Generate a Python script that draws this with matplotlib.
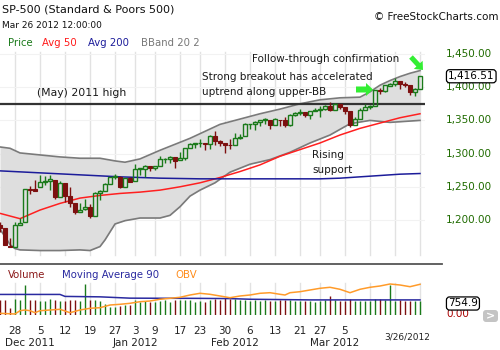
import matplotlib
matplotlib.use("Agg")
import matplotlib.pyplot as plt
import numpy as np
import pandas as pd
from matplotlib.patches import Rectangle, FancyArrow, FancyBboxPatch
from matplotlib.transforms import IdentityTransform

plt.rcParams['font.family'] = ['DejaVu Sans']

# ---------------- data ----------------
dates = ["2011-11-22", "2011-11-23", "2011-11-25", "2011-11-28", "2011-11-29", "2011-11-30",
         "2011-12-01", "2011-12-02", "2011-12-05", "2011-12-06", "2011-12-07", "2011-12-08", "2011-12-09",
         "2011-12-12", "2011-12-13", "2011-12-14", "2011-12-15", "2011-12-16", "2011-12-19", "2011-12-20",
         "2011-12-21", "2011-12-22", "2011-12-23", "2011-12-27", "2011-12-28", "2011-12-29", "2011-12-30",
         "2012-01-03", "2012-01-04", "2012-01-05", "2012-01-06", "2012-01-09", "2012-01-10", "2012-01-11",
         "2012-01-12", "2012-01-13", "2012-01-17", "2012-01-18", "2012-01-19", "2012-01-20", "2012-01-23",
         "2012-01-24", "2012-01-25", "2012-01-26", "2012-01-27", "2012-01-30", "2012-01-31",
         "2012-02-01", "2012-02-02", "2012-02-03", "2012-02-06", "2012-02-07", "2012-02-08", "2012-02-09",
         "2012-02-10", "2012-02-13", "2012-02-14", "2012-02-15", "2012-02-16", "2012-02-17", "2012-02-21",
         "2012-02-22", "2012-02-23", "2012-02-24", "2012-02-27", "2012-02-28", "2012-02-29",
         "2012-03-01", "2012-03-02", "2012-03-05", "2012-03-06", "2012-03-07", "2012-03-08", "2012-03-09",
         "2012-03-12", "2012-03-13", "2012-03-14", "2012-03-15", "2012-03-16", "2012-03-19", "2012-03-20",
         "2012-03-21", "2012-03-22", "2012-03-23", "2012-03-26"]

opens = [1192.98, 1187.48, 1161.41, 1158.67, 1192.56, 1196.72,
         1246.91, 1246.03, 1249.75, 1257.19, 1258.14, 1260.87, 1234.48,
         1255.05, 1236.83, 1225.73, 1212.12, 1216.09, 1219.74, 1205.72,
         1241.25, 1243.72, 1254.00, 1265.02, 1265.38, 1249.75, 1262.82,
         1258.86, 1277.03, 1277.30, 1280.93, 1277.83, 1280.77, 1292.02,
         1292.48, 1294.82, 1290.22, 1293.65, 1308.07, 1314.49, 1315.29,
         1315.96, 1314.40, 1326.28, 1318.25, 1316.16, 1313.53,
         1312.45, 1324.24, 1326.21, 1344.32, 1344.33, 1347.04, 1349.97,
         1351.21, 1343.06, 1351.30, 1350.52, 1342.61, 1358.06, 1361.22,
         1362.11, 1357.53, 1363.46, 1365.20, 1367.56, 1372.20,
         1365.90, 1374.09, 1369.59, 1363.63, 1343.39, 1352.65, 1365.97,
         1370.78, 1371.92, 1395.95, 1394.17, 1402.55, 1404.17, 1409.59,
         1405.52, 1402.89, 1392.78, 1397.11]
highs = [1196.81, 1187.48, 1172.66, 1197.35, 1203.67, 1247.11,
         1251.09, 1260.08, 1267.06, 1266.03, 1267.06, 1260.87, 1258.25,
         1255.05, 1249.86, 1225.73, 1225.60, 1231.04, 1224.57, 1242.82,
         1245.09, 1255.22, 1265.42, 1269.37, 1265.85, 1263.54, 1264.12,
         1284.62, 1278.73, 1283.05, 1281.84, 1281.99, 1296.46, 1293.80,
         1296.82, 1294.82, 1303.00, 1308.11, 1315.49, 1315.38, 1322.28,
         1315.96, 1328.30, 1333.47, 1320.06, 1316.16, 1321.41,
         1330.52, 1329.19, 1345.34, 1344.36, 1349.24, 1351.00, 1354.32,
         1351.21, 1353.35, 1351.30, 1355.87, 1359.02, 1363.40, 1367.76,
         1362.70, 1364.24, 1368.92, 1371.94, 1373.09, 1378.04,
         1376.17, 1374.53, 1369.59, 1363.63, 1354.85, 1368.72, 1374.76,
         1373.04, 1396.13, 1399.42, 1402.63, 1405.88, 1414.00, 1409.59,
         1407.75, 1402.89, 1399.18, 1416.58]
lows = [1181.65, 1161.79, 1158.66, 1158.67, 1191.80, 1196.72,
        1239.73, 1243.35, 1249.75, 1253.03, 1244.80, 1231.47, 1234.48,
        1227.25, 1219.43, 1209.47, 1212.12, 1215.20, 1202.37, 1205.72,
        1229.51, 1243.72, 1254.00, 1262.30, 1248.64, 1249.75, 1257.46,
        1258.86, 1268.10, 1265.26, 1273.34, 1274.55, 1280.77, 1285.41,
        1285.77, 1277.58, 1290.22, 1290.99, 1308.07, 1309.17, 1309.89,
        1306.06, 1307.65, 1313.60, 1311.72, 1300.49, 1306.69,
        1312.45, 1321.57, 1326.21, 1337.52, 1335.92, 1341.95, 1344.63,
        1337.35, 1343.06, 1340.83, 1340.80, 1341.22, 1357.24, 1358.11,
        1355.53, 1352.28, 1363.46, 1354.92, 1365.97, 1363.81,
        1365.90, 1366.42, 1359.13, 1340.03, 1343.39, 1352.65, 1365.97,
        1366.69, 1371.92, 1389.97, 1392.78, 1401.47, 1402.43, 1397.68,
        1400.64, 1388.73, 1386.87, 1397.11]
closes = [1188.04, 1161.79, 1158.67, 1192.55, 1195.19, 1246.96,
          1244.58, 1244.28, 1257.08, 1258.47, 1261.01, 1234.35, 1255.19,
          1236.47, 1225.73, 1211.82, 1215.75, 1219.66, 1205.35, 1241.30,
          1243.72, 1254.00, 1265.33, 1265.43, 1249.64, 1263.02, 1257.60,
          1277.06, 1277.30, 1281.06, 1277.81, 1280.70, 1292.08, 1292.48,
          1295.50, 1289.09, 1293.67, 1308.04, 1314.50, 1315.38, 1316.00,
          1314.65, 1326.06, 1318.43, 1316.33, 1313.01, 1312.41,
          1324.09, 1325.54, 1344.90, 1344.33, 1347.05, 1349.96, 1351.95,
          1342.64, 1351.77, 1350.50, 1343.23, 1358.04, 1361.23, 1362.21,
          1357.66, 1363.46, 1365.74, 1367.59, 1372.18, 1365.68,
          1374.09, 1369.63, 1364.33, 1343.36, 1352.63, 1365.91, 1370.87,
          1371.09, 1395.95, 1394.28, 1402.60, 1404.17, 1409.75, 1405.52,
          1402.89, 1392.78, 1397.11, 1416.51]
volume = [3.4, 3.4, 1.5, 3.6, 3.5, 6.9, 3.4, 3.4, 3.1, 3.2, 3.6, 3.4, 3.2,
          3.1, 3.4, 3.5, 3.2, 7.0, 3.5, 3.5, 3.2, 2.6, 1.9, 1.9, 2.0, 2.3, 2.3,
          3.4, 3.0, 3.2, 3.0, 3.0, 3.2, 3.4, 3.0, 3.4, 3.5, 3.4, 3.4, 3.0, 3.2,
          3.0, 3.4, 3.6, 3.4, 4.0, 3.6, 3.6, 3.5, 3.4, 3.2, 3.4, 3.3, 3.5,
          3.3, 3.1, 3.4, 3.5, 3.4, 3.2, 3.3, 3.2, 3.1, 3.0, 3.3, 3.4, 4.3,
          3.4, 3.1, 3.2, 3.7, 3.3, 3.3, 3.2, 3.1, 3.7, 3.6, 3.5, 6.9, 3.3,
          3.4, 3.3, 3.2, 3.2, 3.3]

# indicator lines (index of trading day, value)
bb_upper_idx = [0, 2, 4, 8, 12, 16, 20, 23, 25, 28, 32, 36, 38, 40, 44, 48, 52, 56, 60, 64, 68, 72, 74, 76, 78, 80, 82, 84]
bb_upper = [1310, 1308, 1301, 1298, 1295, 1293, 1293, 1289, 1287, 1292, 1305, 1317, 1323, 1330, 1344, 1352,
            1360, 1367, 1375, 1381, 1384, 1385, 1393, 1403, 1410, 1416, 1421, 1425]
bb_lower_idx = [0, 1, 2, 3, 4, 8, 12, 16, 18, 20, 21, 22, 23, 25, 28, 32, 34, 36, 38, 40, 43, 46, 50, 54, 58,
                62, 66, 70, 74, 78, 82, 84]
bb_lower = [1186, 1175, 1163, 1157, 1155, 1154, 1154, 1155, 1154, 1160, 1170, 1182, 1194, 1199, 1203, 1203,
            1207, 1220, 1236, 1245, 1256, 1272, 1284, 1291, 1302, 1316, 1328, 1345, 1350, 1347, 1349, 1350]
ma50_idx = [0, 4, 8, 12, 16, 20, 24, 28, 32, 36, 40, 44, 48, 52, 56, 60, 64, 68, 72, 76, 80, 84]
ma50 = [1210, 1202, 1215, 1225, 1233, 1237, 1240, 1242, 1245, 1250, 1256, 1264, 1273, 1283, 1296, 1306,
        1316, 1328, 1338, 1346, 1354, 1360]
ma200_idx = [0, 8, 16, 24, 32, 40, 48, 56, 64, 68, 72, 76, 80, 84]
ma200 = [1274, 1271, 1268, 1265, 1263, 1262, 1262, 1262, 1262, 1263, 1265, 1267, 1269, 1270]
vol_ma90_idx = [0, 12, 13, 20, 24, 26, 40, 46, 50, 62, 84]
vol_ma90 = [4.7, 4.7, 4.25, 4.15, 3.95, 3.85, 3.8, 3.75, 3.6, 3.45, 3.45]
obv_idx = [0, 3, 4, 5, 6, 7, 8, 10, 12, 14, 16, 18, 20, 22, 24, 26, 28, 30, 32, 34, 36, 38, 40, 42, 44, 46,
           48, 50, 52, 54, 56, 57, 58, 60, 62, 64, 66, 68, 70, 72, 74, 76, 78, 80, 82, 84]
obv = [1.7, 1.0, 4.3, 5.0, 4.3, 2.3, 4.3, 5.0, 5.7, 2.3, 5.0, 6.7, 7.3, 10.0, 10.7, 11.7, 13.3, 14.0, 15.7,
       16.7, 17.7, 20.0, 21.7, 20.7, 19.0, 17.3, 19.0, 20.0, 21.7, 22.3, 20.7, 20.0, 22.3, 23.3, 25.0, 26.7,
       27.7, 25.7, 22.3, 25.7, 27.7, 29.0, 31.0, 30.0, 28.3, 30.7]
may_2011_high = 1375
price_ticks = [1450, 1400, 1350, 1300, 1250, 1200]
last_price_label = "1,416.51"
last_volume_label = "754.9"

# ---------------- helpers ----------------
W, H = 500, 350
def fx(x):
    return x / W
def fy(y):
    return 1 - y / H

GREEN = '#1a7a1a'
RED = '#7d1010'
TICKGREEN = '#1f6b00'

fig = plt.figure(figsize=(5, 3.5), dpi=100)
fig.patch.set_facecolor('white')

n = len(dates)
idx = np.arange(n)
dts = pd.to_datetime(dates)

# week-start ticks
week_key = dts.to_period('W')
week_first = [int(i) for i in pd.Series(idx).groupby(week_key.values).min().values]
week_first = [i for i in week_first if i > 0]

# ---------------- price panel ----------------
P_TOP, P_BOT = 50, 258
ax = fig.add_axes([0, fy(P_BOT), 425 / W, (P_BOT - P_TOP) / H])
ax.set_xlim(0, 85)
ylo = 1200 - (P_BOT - 220) / 0.664
yhi = 1450 + (54 - P_TOP) / 0.664
ax.set_ylim(ylo, yhi)
ax.set_axis_off()

g0 = (P_BOT - 255) / (P_BOT - P_TOP)
g1 = (P_BOT - 52) / (P_BOT - P_TOP)
for i in week_first:
    ax.axvline(i, ymin=g0, ymax=g1, color='#e2e2e2', lw=1, zorder=0)
for p in price_ticks:
    ax.axhline(p, color='#f2f2f2', lw=0.8, zorder=0)

ui = np.interp(idx, bb_upper_idx, bb_upper)
li = np.interp(idx, bb_lower_idx, bb_lower)
ax.fill_between(idx, li, ui, color='#dedede', zorder=1, lw=0)
ax.plot(bb_upper_idx, bb_upper, color='#7a7a7a', lw=1.2, zorder=2)
ax.plot(bb_lower_idx, bb_lower, color='#7a7a7a', lw=1.2, zorder=2)
ax.plot(ma50_idx, ma50, color='#ff2020', lw=1.1, zorder=2)
ax.plot(ma200_idx, ma200, color='#1c1c9a', lw=1.1, zorder=2)
ax.axhline(may_2011_high, color='#333333', lw=1.6, zorder=3)

bw = 0.8
for i in range(n):
    o, h, l, c = opens[i], highs[i], lows[i], closes[i]
    up = c >= o
    col = GREEN if up else RED
    bot, top = min(o, c), max(o, c)
    ax.plot([i, i], [l, bot], color=col, lw=1.0, zorder=4, solid_capstyle='butt')
    ax.plot([i, i], [top, h], color=col, lw=1.0, zorder=4, solid_capstyle='butt')
    hgt = max(top - bot, 0.6)
    if up:
        r = Rectangle((i - bw / 2, bot), bw, hgt, facecolor='none', edgecolor=col, lw=1.0, zorder=5)
    else:
        r = Rectangle((i - bw / 2, bot), bw, hgt, facecolor=col, edgecolor=col, lw=0.8, zorder=5)
    ax.add_patch(r)

# right price labels
for p in price_ticks:
    ypx = 54 + (1450 - p) * 0.664
    fig.text(fx(446), fy(ypx), f"{p:,.2f}", color=TICKGREEN, fontsize=7.5, va='center', ha='left')
lp = closes[-1]
fig.text(fx(448), fy(54 + (1450 - lp) * 0.664), last_price_label, color='black', fontsize=7.5,
         va='center', ha='left', zorder=10,
         bbox=dict(boxstyle='round,pad=0.15,rounding_size=0.3', fc='white', ec='black', lw=0.9))

# separator line
fig.add_artist(plt.Line2D([0, fx(442)], [fy(263.5), fy(263.5)], color='#555555', lw=1.3))

# ---------------- volume panel ----------------
V_TOP, V_BOT = 280, 315
axv = fig.add_axes([0, fy(V_BOT), 425 / W, (V_BOT - V_TOP) / H])
axv.set_xlim(0, 85)
axv.set_ylim(0, 8)
axv.set_axis_off()
vg1 = (V_BOT - 283) / (V_BOT - V_TOP)
for i in week_first:
    axv.axvline(i, ymin=0, ymax=vg1, color='#e2e2e2', lw=1, zorder=0)
vcols = [GREEN if closes[i] >= opens[i] else RED for i in range(n)]
axv.vlines(idx, 0, volume, colors=vcols, lw=1.0, zorder=2)
axv.plot(vol_ma90_idx, vol_ma90, color='#2a2aa0', lw=1.1, zorder=3)
axo = fig.add_axes([0, fy(V_BOT), 425 / W, (V_BOT - V_TOP) / H])
axo.set_xlim(0, 85)
axo.set_ylim(0, 35)
axo.set_axis_off()
axo.patch.set_alpha(0)
axo.plot(obv_idx, obv, color='#ff9b2a', lw=1.1, zorder=3)

# volume axis labels
fig.text(fx(448), fy(303.5), last_volume_label, color='black', fontsize=7.5, va='center', ha='left', zorder=10,
         bbox=dict(boxstyle='round,pad=0.15,rounding_size=0.3', fc='white', ec='black', lw=0.9))
fig.text(fx(446), fy(314), "0.00", color='#aa0000', fontsize=7.5, va='center', ha='left', zorder=5)
btn = FancyBboxPatch((483, H - 322), 15, 12, boxstyle='round,pad=0,rounding_size=3',
                     transform=IdentityTransform(), fc='#c4c4c4', ec='none')
fig.add_artist(btn)
fig.text(fx(490.5), fy(316), ">", color='white', fontsize=8, fontweight='bold', va='center', ha='center')

# ---------------- x labels ----------------
hide_from = dts.get_loc(pd.Timestamp("2012-03-12"))
for i in week_first:
    if i >= hide_from:
        continue
    fig.text(fx(i * 5), fy(330.5), str(dts[i].day), fontsize=7.5, color='#222222', ha='center', va='center')
month_first = pd.Series(idx).groupby(dts.to_period('M').values).min()
for per, i in month_first.items():
    if i == 0:
        continue
    fig.text(fx(max(i * 5, 28)), fy(343), pd.Timestamp(dts[i]).strftime('%b %Y'), fontsize=7.5, color='#222222',
             ha='center', va='center')
fig.text(fx(407), fy(337), dts[-1].strftime('%-m/%-d/%Y'), fontsize=6.5, color='#222222',
         ha='center', va='center')

# ---------------- header texts ----------------
fig.text(fx(2), fy(9), "SP-500 (Standard & Poors 500)", fontsize=8, color='#111111', va='center', ha='left')
fig.text(fx(2), fy(25), "Mar 26 2012 12:00:00", fontsize=6.5, color='#111111', va='center', ha='left')
fig.text(fx(498), fy(17), "\u00a9 FreeStockCharts.com", fontsize=7.5, color='#111111', va='center', ha='right')
leg = [("Price", '#1a7a1a', 8), ("Avg 50", '#ff1a1a', 42), ("Avg 200", '#1c1c9a', 88), ("BBand 20 2", '#777777', 141)]
for t, c, x in leg:
    fig.text(fx(x), fy(43), t, fontsize=7.3, color=c, va='center', ha='left')
vleg = [("Volume", '#8b1a1a', 8), ("Moving Average 90", '#2a2aa0', 62), ("OBV", '#ff8c1a', 175)]
for t, c, x in vleg:
    fig.text(fx(x), fy(275), t, fontsize=7.3, color=c, va='center', ha='left')

# ---------------- annotations ----------------
ann = '#1a1a1a'
fig.text(fx(37), fy(93), "(May) 2011 high", fontsize=7.8, color=ann, va='center', ha='left')
fig.text(fx(252), fy(59), "Follow-through confirmation", fontsize=7.5, color=ann, va='center', ha='left')
fig.text(fx(202), fy(77), "Strong breakout has accelerated", fontsize=7.5, color=ann, va='center', ha='left')
fig.text(fx(202), fy(92), "uptrend along upper-BB", fontsize=7.5, color=ann, va='center', ha='left')
fig.text(fx(312), fy(155), "Rising", fontsize=7.5, color=ann, va='center', ha='left')
fig.text(fx(312), fy(170), "support", fontsize=7.5, color=ann, va='center', ha='left')

arrow_green = '#33ee33'
a1 = FancyArrow(356, H - 89.5, 17, 0, width=6, head_width=13, head_length=7,
                length_includes_head=True, transform=IdentityTransform(), color=arrow_green, lw=0)
a2 = FancyArrow(411, H - 57, 12, -13, width=5, head_width=12, head_length=7,
                length_includes_head=True, transform=IdentityTransform(), color=arrow_green, lw=0)
fig.add_artist(a1)
fig.add_artist(a2)

fig.savefig("out.png", dpi=100)
